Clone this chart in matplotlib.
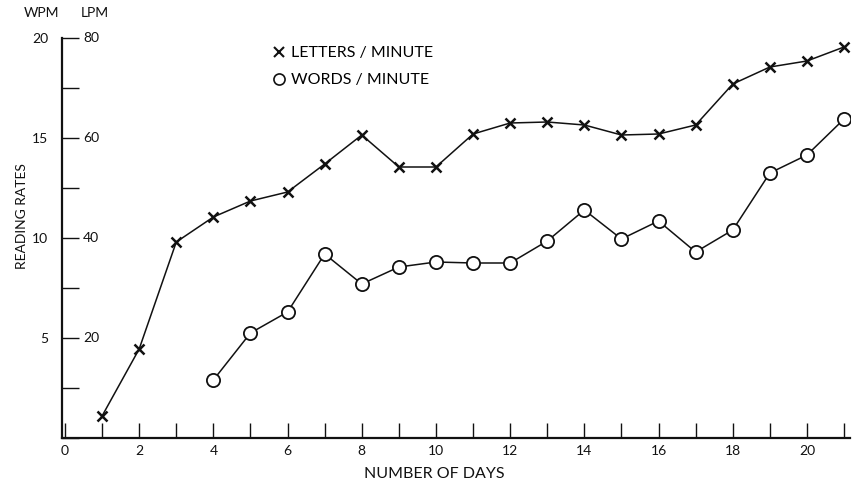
import matplotlib
matplotlib.use("Agg")
import matplotlib.pyplot as plt
from matplotlib.ticker import MultipleLocator, FixedLocator
from matplotlib.lines import Line2D

# Reading-rate data over the training period
letter_days = list(range(1, 22))
letters_per_minute = [4.4, 17.8, 39.2, 44.2, 47.4, 49.2, 54.8, 60.6, 54.2, 54.2,
                      60.8, 63.0, 63.2, 62.6, 60.6, 60.8, 62.6, 70.8, 74.2, 75.4, 78.2]

word_days = list(range(4, 22))
words_per_minute = [2.9, 5.25, 6.3, 9.2, 7.7, 8.55, 8.8, 8.75, 8.75, 9.85,
                    11.4, 9.95, 10.85, 9.3, 10.4, 13.25, 14.15, 15.95]

wpm_ticks = [5, 10, 15, 20]
lpm_ticks = [20, 40, 60, 80]
day_ticks = list(range(0, 21, 2))

plt.rcParams['font.family'] = ['Lato', 'DejaVu Sans']

fig = plt.figure(figsize=(8.53, 4.90), dpi=100)
ax = fig.add_axes([62 / 853, 52 / 490, (850 - 62) / 853, (438 - 38) / 490])

ink = '#111111'

# letters/minute on the WPM scale (4 letters per word)
ax.plot(letter_days, [v / 4 for v in letters_per_minute], color=ink, lw=1.1,
        marker='x', ms=7, mew=1.8, mec=ink, zorder=3)
ax.plot(word_days, words_per_minute, color=ink, lw=1.1,
        marker='o', ms=9.5, mew=1.3, mfc='white', mec=ink, zorder=3)

ax.set_xlim(-0.08, 21.16)
ax.set_ylim(0, 20)

for side in ('top', 'right'):
    ax.spines[side].set_visible(False)
for side in ('left', 'bottom'):
    ax.spines[side].set_linewidth(1.6)
    ax.spines[side].set_color(ink)

# x axis: a tick per day, labels every second day
ax.xaxis.set_major_locator(FixedLocator(day_ticks))
ax.xaxis.set_minor_locator(MultipleLocator(1))
ax.tick_params(axis='x', which='both', direction='in', length=11, width=1.0,
               color=ink, labelsize=10, pad=5, labelcolor=ink)

# y axis: WPM labels on the outside
ax.yaxis.set_major_locator(FixedLocator([0] + wpm_ticks))
ax.yaxis.set_minor_locator(MultipleLocator(2.5))
ax.set_yticklabels([''] + [str(t) for t in wpm_ticks])
ax.tick_params(axis='y', which='both', direction='in', length=12, width=1.0,
               color=ink, labelsize=10, pad=10, labelcolor=ink)

# LPM labels sit just inside the left spine
for w, l in zip(wpm_ticks, lpm_ticks):
    ax.annotate(str(l), xy=(0, w), xycoords=('axes fraction', 'data'),
                xytext=(21, 0), textcoords='offset pixels',
                ha='left', va='center', fontsize=10, color=ink)

fig.text(42 / 853, 1 - 13 / 490, 'WPM', ha='center', va='center', fontsize=10, color=ink)
fig.text(95 / 853, 1 - 13 / 490, 'LPM', ha='center', va='center', fontsize=10, color=ink)

ax.set_ylabel('READING RATES', fontsize=10, color=ink)
ax.yaxis.set_label_coords((28 - 62) / 788, (438 - 216) / 400)
ax.set_xlabel('NUMBER OF DAYS', fontsize=11.5, color=ink)
ax.xaxis.set_label_coords((434 - 62) / 788, -29 / 400)

handles = [
    Line2D([], [], ls='none', marker='x', ms=6.5, mew=1.5, color=ink),
    Line2D([], [], ls='none', marker='o', ms=8, mew=1.2, mfc='white', mec=ink),
]
ax.legend(handles, ['LETTERS / MINUTE', 'WORDS / MINUTE'], loc='upper left',
          bbox_to_anchor=(263 / 853, 1 - 38 / 490), bbox_transform=fig.transFigure,
          frameon=False, fontsize=11.5, handlelength=1.0, handletextpad=0.25,
          labelspacing=0.8, borderpad=0)

fig.savefig('out.png', dpi=100, facecolor='white')
